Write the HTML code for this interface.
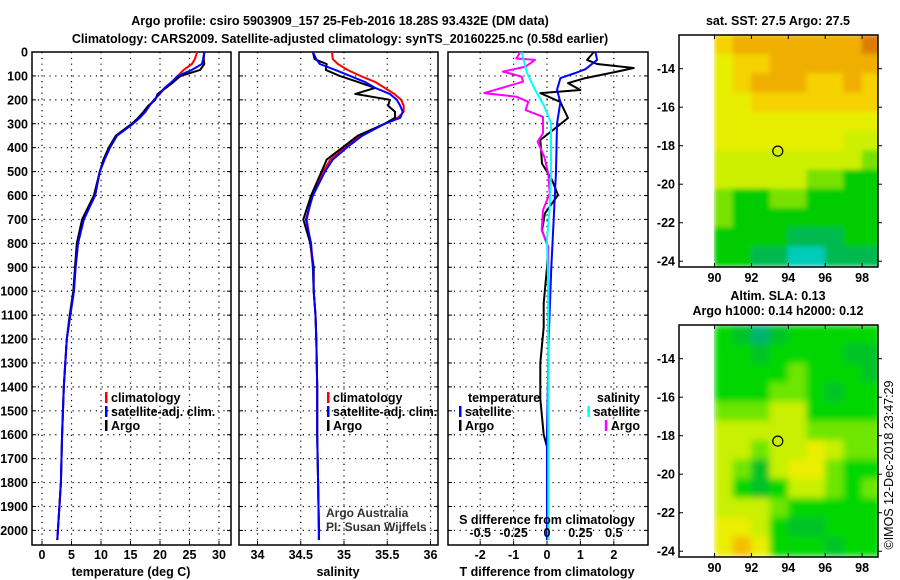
<!DOCTYPE html>
<html><head><meta charset="utf-8"><style>
html,body{margin:0;padding:0;background:#fff;}
svg{display:block;font-family:"Liberation Sans",sans-serif;}
.t{font-weight:bold;font-size:12.5px;fill:#000;}
</style></head><body>
<svg id="c" width="900" height="580" viewBox="0 0 900 580"></svg>
<script>
// ---------------- data ----------------
const depth = [0,30,50,75,100,125,150,175,200,225,250,275,300,350,400,450,500,600,700,800,900,1000,1100,1200,1400,1600,1800,2000,2040];
const tempClim = [26.3,25.9,25.4,24.0,23.0,22.0,20.8,20.0,19.0,18.2,17.5,16.5,15.4,12.7,11.5,10.6,9.8,9.0,7.0,6.1,5.7,5.4,4.8,4.2,3.7,3.4,3.2,2.7,2.6];
const tempSat = [27.5,27.3,27.1,25.4,23.0,22.0,20.8,19.9,19.0,18.2,17.5,16.6,15.4,12.7,11.5,10.6,9.8,9.0,7.1,6.1,5.7,5.4,4.8,4.2,3.7,3.4,3.2,2.7,2.6];
const tempArgo = [27.5,27.4,27.5,26.8,23.5,22.3,21.0,19.6,19.2,18.0,17.2,16.3,15.2,12.5,11.3,10.4,9.8,8.8,6.8,5.9,5.6,5.3,4.7,4.2,3.7,3.4,3.2,2.7,2.6];
const salClim = [34.86,34.87,34.93,35.04,35.19,35.36,35.47,35.58,35.66,35.69,35.69,35.62,35.47,35.19,35.01,34.84,34.76,34.63,34.57,34.61,34.64,34.65,34.67,34.68,34.69,34.69,34.70,34.71,34.71];
const salSat = [34.64,34.68,34.72,34.90,35.07,35.24,35.36,35.53,35.61,35.65,35.68,35.65,35.47,35.21,35.03,34.87,34.78,34.64,34.56,34.62,34.64,34.65,34.67,34.68,34.69,34.69,34.70,34.71,34.71];
const salArgo = [34.64,34.66,34.80,34.79,34.95,35.16,35.36,35.13,35.53,35.51,35.59,35.59,35.47,35.16,34.98,34.80,34.74,34.62,34.53,34.61,34.65,34.65,34.67,34.68,34.69,34.69,34.70,34.71,34.71];
const dTArgoDepth = [0,33,50,67,82,109,130,159,172,209,276,313,368,466,535,598,674,745,815,900,1050,1150,1300,1450,1600,1650,2040];
const dTArgo = [1.4,1.2,1.5,2.6,2.1,1.15,0.63,1.0,-0.2,0.4,0.63,0.3,-0.2,-0.15,0.15,0.33,-0.06,-0.15,0.03,0.0,-0.1,-0.1,-0.2,-0.2,-0.1,0.0,0.0];
const dTSatDepth = [0,33,72,88,109,159,209,300,500,700,900,1200,1600,2040];
const dTSat = [1.45,1.5,1.15,0.85,0.4,0.3,0.4,0.3,0.27,0.2,0.13,0.05,0.0,0.0];
const dSArgoDepth = [0,27,33,61,82,103,124,172,187,208,243,271,340,375,438,508,591,661,745,815,1000,2040];
const dSArgo = [-0.2,-0.23,-0.09,-0.16,-0.33,-0.19,-0.18,-0.47,-0.23,-0.14,-0.16,-0.03,-0.03,-0.07,-0.02,0.01,0.02,-0.03,-0.04,0.01,0.01,0.01];
const dSSatDepth = [0,45,87,157,227,297,508,647,787,1000,2040];
const dSSat = [-0.19,-0.17,-0.15,-0.09,-0.02,0.03,0.03,0.02,0.0,0.01,0.01];
const depthTicks = [0,100,200,300,400,500,600,700,800,900,1000,1100,1200,1300,1400,1500,1600,1700,1800,1900,2000];
const tempTicks = [0,5,10,15,20,25,30];
const salTicks = [34,34.5,35,35.5,36];
const salTickLabels = ["34","34.5","35","35.5","36"];
const dTTicks = [-2,-1,0,1,2];
const dSTicks = [-0.5,-0.25,0,0.25,0.5];
const dSTickLabels = ["-0.5","-0.25","0","0.25","0.5"];
const lonTicks = [90,92,94,96,98];
const latTicks = [-14,-16,-18,-20,-22,-24];
const sstGrid = [
 [6,7,7,7,7,7,7,7,8],
 [5,6,6,7,7,7,7,7,7],
 [5,6,7,7,7,6,6,7,6],
 [5,5,6,6,6,6,6,6,6],
 [5,5,5,5,5,5,5,5,5],
 [5,5,5,5,5,5,5,4,4],
 [4,4,4,4,4,4,4,4,3],
 [4,4,4,4,4,3,3,2,2],
 [3,2,2,3,3,2,2,2,2],
 [3,2,2,2,2,2,2,2,2],
 [2,2,2,2,1,1,1,2,2],
 [2,2,1,1,0,0,1,1,1]];
const slaGrid = [
 [2,1,0,1,2,2,2,2,2],
 [2,2,1,2,2,2,2,1,1],
 [2,2,2,2,3,2,2,2,1],
 [2,2,2,3,3,2,1,2,2],
 [3,3,3,4,4,2,2,2,2],
 [4,4,4,4,4,3,3,3,3],
 [4,4,3,4,4,5,4,3,3],
 [4,3,1,4,5,5,3,2,2],
 [4,2,1,2,4,4,3,2,3],
 [4,4,4,3,2,2,2,2,2],
 [5,5,4,2,1,1,2,2,2],
 [5,6,5,2,2,2,1,2,2]];
const floatLon = 93.43, floatLat = -18.28;

// ---------------- drawing ----------------
const NS="http://www.w3.org/2000/svg";
const svg=document.getElementById('c');
function el(tag,attrs,parent){const e=document.createElementNS(NS,tag);for(const k in attrs)e.setAttribute(k,attrs[k]);(parent||svg).appendChild(e);return e;}
function txt(s,x,y,anchor,parent,cls){const t=el('text',{x:x,y:y,'text-anchor':anchor||'middle',class:cls||'t'},parent);t.textContent=s;return t;}

const TOP=52, BOT=545, DMAX=(545-52)/0.2392;
const yD=d=>TOP+d*(BOT-TOP)/DMAX;
const xT=v=>42+v*5.9;
const xS=v=>257.5+(v-34)*86.5;
const xdT=v=>547+v*33.4;
const xdS=v=>547+v*133.6;

let tt=txt('Argo profile: csiro 5903909_157 25-Feb-2016 18.28S 93.432E (DM data)',340,25);

tt=txt('Climatology: CARS2009. Satellite-adjusted climatology: synTS_20160225.nc (0.58d earlier)',340,43);


function panel(name,x0,x1,xTicks,xf,xLabels){
  const g=el('g',{});
  
  
  depthTicks.forEach(d=>{const y=yD(d);if(y>TOP+1&&y<BOT-1)el('line',{x1:x0,x2:x1,y1:y,y2:y,stroke:'#000','stroke-dasharray':'1.2,4.6','stroke-width':1.2},g);
    el('line',{x1:x0,x2:x0+4,y1:y,y2:y,stroke:'#000'},g);el('line',{x1:x1-4,x2:x1,y1:y,y2:y,stroke:'#000'},g);});
  xTicks.forEach((v,i)=>{const x=xf(v);el('line',{x1:x,x2:x,y1:TOP,y2:BOT,stroke:'#000','stroke-dasharray':'1.2,4.6','stroke-width':1.2},g);
    el('line',{x1:x,x2:x,y1:BOT,y2:BOT-4,stroke:'#000'},g);
    if(xLabels){const t=txt(xLabels[i],x,559,'middle',g);}});
  el('rect',{x:x0,y:TOP,width:x1-x0,height:BOT-TOP,fill:'none',stroke:'#000','stroke-width':1.5},g);
  return g;
}
function line(g,xs,ds,xf,color,name){
  const p=xs.map((v,i)=>(i?'L':'M')+xf(v).toFixed(1)+','+yD(ds[i]).toFixed(1)).join('');
  const e=el('path',{d:p,fill:'none',stroke:color,'stroke-width':2,'stroke-linejoin':'round'},g);
  
  
}
function legend(g,x,y,color,label,anchorEnd){
  const t=txt(label,anchorEnd?x:x+6,y,anchorEnd?'end':'start',g);
  
  
  let xb=x;
  if(anchorEnd){xb=x-t.getComputedTextLength()-6;}
  el('rect',{x:xb,y:y-10,width:2.5,height:11,fill:color},g);
}

depthTicks.forEach(d=>{const t=txt(String(d),28,yD(d)+4.5,'end');});

const p1=panel('temperature-panel',32,231,tempTicks,xT,tempTicks.map(String));
line(p1,tempClim,depth,xT,'#f00','temp-climatology-line');
line(p1,tempArgo,depth,xT,'#000','temp-argo-line');
line(p1,tempSat,depth,xT,'#00f','temp-satellite-line');
legend(p1,105,402,'#f00','climatology');legend(p1,105,416,'#00f','satellite-adj. clim.');legend(p1,105,430,'#000','Argo');
let at=txt('temperature (deg C)',131,576);

const p2=panel('salinity-panel',239,438,salTicks,xS,salTickLabels);
line(p2,salClim,depth,xS,'#f00','sal-climatology-line');
line(p2,salArgo,depth,xS,'#000','sal-argo-line');
line(p2,salSat,depth,xS,'#00f','sal-satellite-line');
legend(p2,327,402,'#f00','climatology');legend(p2,327,416,'#00f','satellite-adj. clim.');legend(p2,327,430,'#000','Argo');
let cr=txt('Argo Australia',326,517,'start',p2,'');cr.setAttribute('style','font-size:12px;fill:#333');
cr=txt('PI: Susan Wijffels',326,531,'start',p2,'');cr.setAttribute('style','font-size:12px;fill:#333');
at=txt('salinity',338,576);

const p3=panel('difference-panel',448,648,dTTicks,xdT,dTTicks.map(String));
line(p3,dTArgo,dTArgoDepth,xdT,'#000','t-diff-argo-line');
line(p3,dTSat,dTSatDepth,xdT,'#00f','t-diff-satellite-line');
line(p3,dSArgo,dSArgoDepth,xdS,'#f0f','s-diff-argo-line');
line(p3,dSSat,dSSatDepth,xdS,'#0ff','s-diff-satellite-line');
let lt=txt('temperature',468,402,'start',p3);
legend(p3,459,416,'#00f','satellite');legend(p3,459,430,'#000','Argo');
lt=txt('salinity',640,402,'end',p3);
legend(p3,640,416,'#0ff','satellite',true);legend(p3,640,430,'#f0f','Argo',true);
txt('S difference from climatology',547,524,'middle',p3);
dSTicks.forEach((v,i)=>{const t=txt(dSTickLabels[i],xdS(v),537,'middle',p3);});
at=txt('T difference from climatology',547,576);

const sstCols=['rgb(0,205,185)','rgb(0,185,80)','rgb(0,205,0)','rgb(120,225,0)','rgb(205,240,0)','rgb(232,238,0)','rgb(245,210,0)','rgb(240,175,0)','rgb(220,125,0)'];
const slaCols=['rgb(0,180,110)','rgb(0,195,40)','rgb(0,215,0)','rgb(110,230,0)','rgb(200,240,0)','rgb(235,238,0)','rgb(245,190,0)'];
const defs=el('defs',{});
const f=el('filter',{id:'bl',x:'-10%',y:'-10%',width:'120%',height:'120%'},defs);el('feGaussianBlur',{stdDeviation:3.5},f);
const f2=el('filter',{id:'bl2',x:'-10%',y:'-10%',width:'120%',height:'120%'},defs);el('feGaussianBlur',{stdDeviation:2.5},f2);
function map(name,top,bot,grid,cols,filt,title){
  const g=el('g',{});
  
  
  const L=679,R=878,latTop=-12.25;
  const pxLat=(bot-top)/12.05;
  const xL=lon=>714.5+(lon-90)*18.45;
  const yL=lat=>top+(latTop-lat)*pxLat;
  const cp=el('clipPath',{id:'clip'+name},g);el('rect',{x:714,y:top,width:R-714,height:bot-top},cp);
  const clip=el('g',{'clip-path':'url(#clip'+name+')'},g);
  const cg=el('g',{filter:'url(#'+filt+')'},clip);
  grid.forEach((row,r)=>row.forEach((v,c)=>{
    const cell=el('rect',{x:xL(90+c)-0.3,y:yL(latTop-r)-0.3,width:18.45+0.8,height:pxLat+0.8,fill:cols[v]},cg);
    
    
  }));
  el('rect',{x:L,y:top,width:R-L,height:bot-top,fill:'none',stroke:'#000','stroke-width':1.5},g);
  lonTicks.forEach(l=>{const x=xL(l);el('line',{x1:x,x2:x,y1:top,y2:top+4,stroke:'#000'},g);el('line',{x1:x,x2:x,y1:bot,y2:bot-4,stroke:'#000'},g);
    const t=txt(String(l),x,bot+15,'middle',g);});
  latTicks.forEach(l=>{const y=yL(l);el('line',{x1:L,x2:L+4,y1:y,y2:y,stroke:'#000'},g);el('line',{x1:R,x2:R+4,y1:y,y2:y,stroke:'#000'},g);
    const t=txt(String(l),675,y+4.5,'end',g);});
  const c=el('circle',{cx:xL(floatLon),cy:yL(floatLat),r:5,fill:'none',stroke:'#000','stroke-width':1.2},g);
  
  
  title.forEach((s,i)=>{const t=txt(s,778,top-10-(title.length-1-i)*15,'middle',g);});
}
map('sst-map',35,267,sstGrid,sstCols,'bl2',['sat. SST: 27.5 Argo: 27.5']);
map('sla-map',325,557,slaGrid,slaCols,'bl',['Altim. SLA: 0.13','Argo h1000: 0.14 h2000: 0.12']);

const im=el('text',{x:0,y:0,transform:'translate(893,465) rotate(-90)','text-anchor':'middle',style:'font-size:12.5px'});
im.textContent='©IMOS 12-Dec-2018 23:47:29';


</script>
</body></html>
